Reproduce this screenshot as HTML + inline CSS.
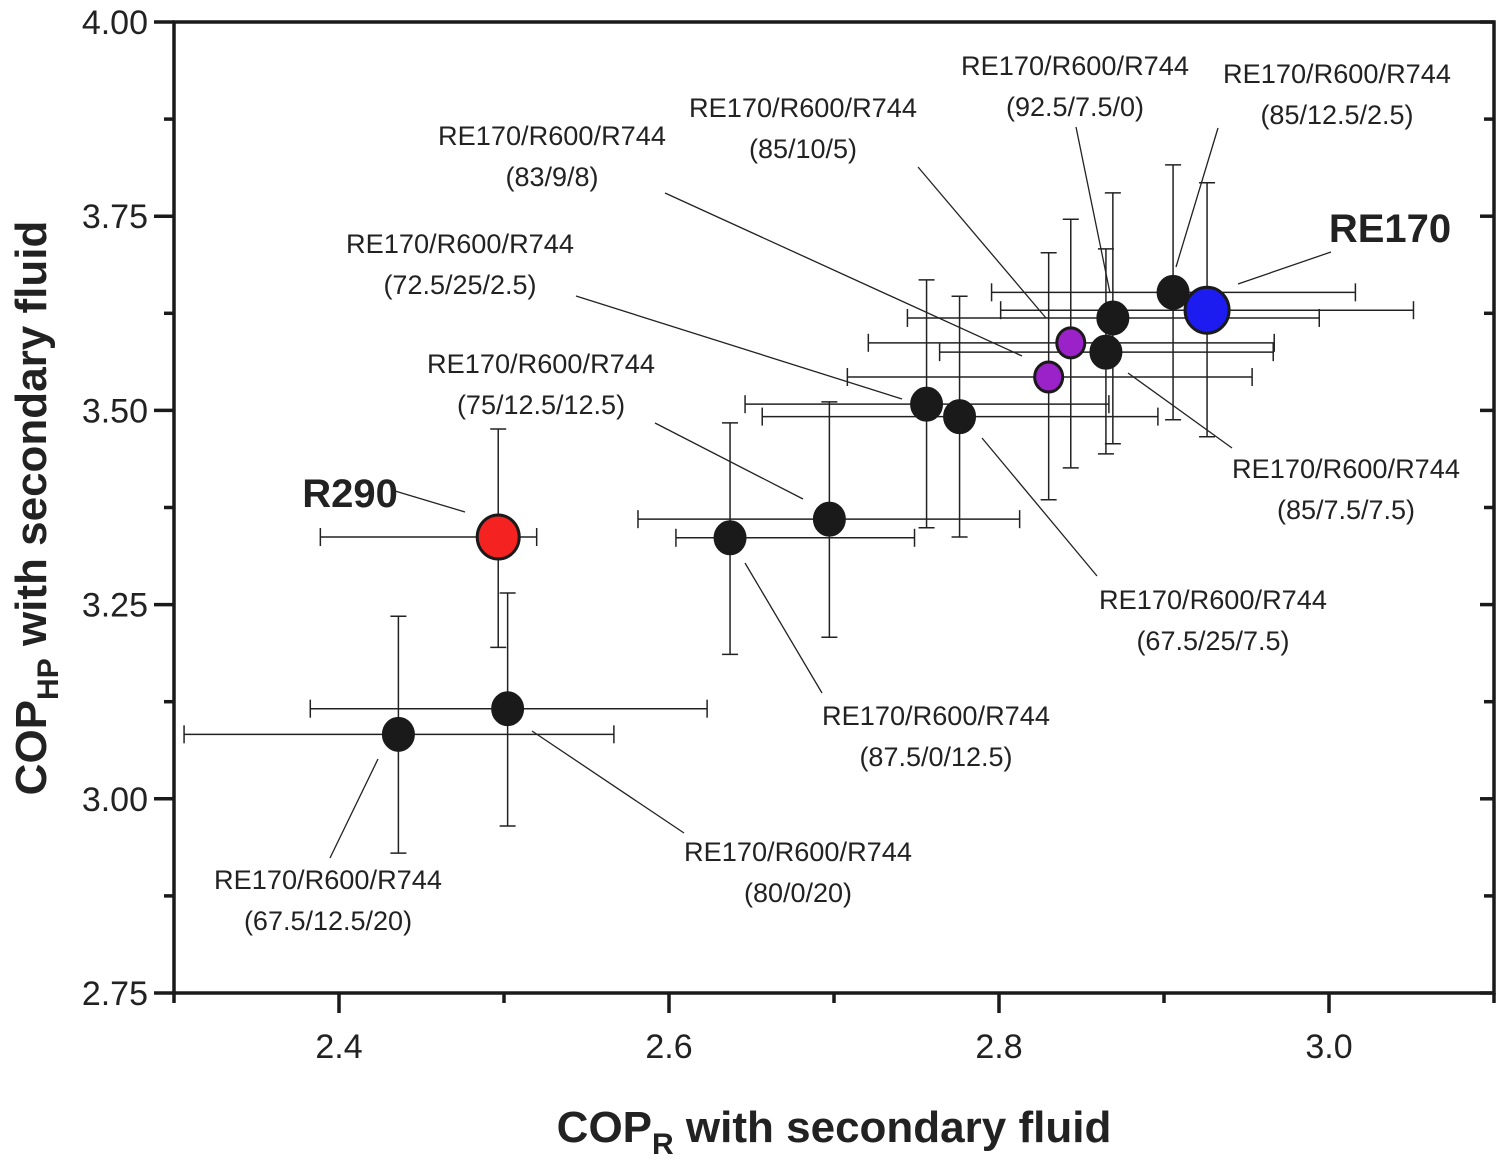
<!DOCTYPE html>
<html><head><meta charset="utf-8"><style>
html,body{margin:0;padding:0;background:#fff}
svg{display:block}
text{font-family:"Liberation Sans",Arial,sans-serif;fill:#222}
</style></head><body>
<svg id="chart" width="1500" height="1160" viewBox="0 0 1500 1160" xmlns="http://www.w3.org/2000/svg">
<g id="ann"></g>
<g id="bars"></g>
<g id="pts"></g>
<g id="axes"></g>
</svg>
<script>
const fluids = ["R290","87.5/0/12.5","75/12.5/12.5","72.5/25/2.5","67.5/25/7.5","83/9/8","85/10/5","85/7.5/7.5","92.5/7.5/0","85/12.5/2.5","RE170","67.5/12.5/20","80/0/20"];
const copR     = [2.4965,2.637,2.6972,2.7561,2.7761,2.8301,2.8435,2.8648,2.869,2.9055,2.9261,2.436,2.5022];
const copRLow  = [2.3887,2.6042,2.5812,2.6461,2.6565,2.7081,2.7208,2.764,2.7445,2.7955,2.801,2.3061,2.3826];
const copRHigh = [2.5198,2.7488,2.8125,2.8666,2.8963,2.9534,2.9668,2.9662,2.9941,3.016,3.0512,2.5666,2.6231];
const copHP     = [3.337,3.336,3.360,3.508,3.492,3.543,3.587,3.575,3.619,3.652,3.629,3.083,3.116];
const copHPLow  = [3.195,3.186,3.208,3.349,3.337,3.385,3.426,3.444,3.457,3.488,3.466,2.930,2.965];
const copHPHigh = [3.476,3.484,3.511,3.668,3.647,3.703,3.746,3.708,3.780,3.816,3.793,3.235,3.265];
const kinds = ["red","black","black","black","black","purple","purple","black","black","black","blue","black","black"];
const xTicks = [2.4,2.6,2.8,3.0];
const xTickLabels = ["2.4","2.6","2.8","3.0"];
const yTicks = [2.75,3.00,3.25,3.50,3.75,4.00];
const yTickLabels = ["2.75","3.00","3.25","3.50","3.75","4.00"];

const L=174,R=1494,T=22,B=993,X0=2.3,X1=3.1,Y0=2.75,Y1=4.0;
const sx=v=>L+(v-X0)/(X1-X0)*(R-L);
const sy=v=>B-(v-Y0)/(Y1-Y0)*(B-T);
const NS="http://www.w3.org/2000/svg";
function mk(tag,attrs,parent){const e=document.createElementNS(NS,tag);for(const k in attrs)e.setAttribute(k,attrs[k]);parent.appendChild(e);return e;}

const bars=document.getElementById('bars');
for(let i=0;i<fluids.length;i++){
  const g=mk('g',{},bars);
  
  
  const st={stroke:'#222','stroke-width':1.5};
  const x=sx(copR[i]),y=sy(copHP[i]),xl=sx(copRLow[i]),xh=sx(copRHigh[i]),yl=sy(copHPLow[i]),yh=sy(copHPHigh[i]);
  mk('line',Object.assign({x1:xl,x2:xh,y1:y,y2:y},st),g);
  mk('line',Object.assign({x1:xl,x2:xl,y1:y-9,y2:y+9},st),g);
  mk('line',Object.assign({x1:xh,x2:xh,y1:y-9,y2:y+9},st),g);
  mk('line',Object.assign({x1:x,x2:x,y1:yl,y2:yh},st),g);
  mk('line',Object.assign({x1:x-8,x2:x+8,y1:yl,y2:yl},st),g);
  mk('line',Object.assign({x1:x-8,x2:x+8,y1:yh,y2:yh},st),g);
}
const pts=document.getElementById('pts');
const fills={red:'#f52222',blue:'#1c1cf0',purple:'#9b22c8',black:'#1a1a1a'};
const rads={red:21,blue:22,purple:14,black:15};
for(let i=0;i<fluids.length;i++){
  const c=mk('ellipse',{cx:sx(copR[i]),cy:sy(copHP[i]),rx:rads[kinds[i]],ry:rads[kinds[i]]+1,fill:fills[kinds[i]],stroke:'#1a1a1a','stroke-width':3},pts);
  
  
}
// annotations (label placement in pixels)
const ann=document.getElementById('ann');
const labels=[
 [328,880,"(67.5/12.5/20)",378,759,330,858],
 [798,852,"(80/0/20)",532,731,684,833],
 [936,716,"(87.5/0/12.5)",745,563,822,693],
 [541,364,"(75/12.5/12.5)",655,423,803,499],
 [460,244,"(72.5/25/2.5)",576,296,902,399],
 [552,136,"(83/9/8)",665,193,1022,356],
 [803,108,"(85/10/5)",918,167,1046,318],
 [1075,66,"(92.5/7.5/0)",1076,127,1110,293],
 [1337,74,"(85/12.5/2.5)",1218,128,1176,267],
 [1346,469,"(85/7.5/7.5)",1128,373,1232,448],
 [1213,600,"(67.5/25/7.5)",982,438,1097,576]
];
labels.forEach((a,i)=>{
  const g=mk('g',{},ann);
  
  
  const t1=mk('text',{x:a[0],y:a[1]+9,'text-anchor':'middle','font-size':27,textLength:228,lengthAdjust:'spacingAndGlyphs'},g);t1.textContent="RE170/R600/R744";
  const t2=mk('text',{x:a[0],y:a[1]+50,'text-anchor':'middle','font-size':27},g);t2.textContent=a[2];
  mk('line',{x1:a[3],y1:a[4],x2:a[5],y2:a[6],stroke:'#222','stroke-width':1.3},g);
});
let g=mk('g',{},ann);
let t=mk('text',{x:1390,y:242,'text-anchor':'middle','font-size':40,'font-weight':'bold'},g);t.textContent="RE170";
mk('line',{x1:1238,y1:284,x2:1331,y2:252,stroke:'#222','stroke-width':1.3},g);
g=mk('g',{},ann);
t=mk('text',{x:350,y:507,'text-anchor':'middle','font-size':40,'font-weight':'bold'},g);t.textContent="R290";
mk('line',{x1:395,y1:491,x2:465,y2:512,stroke:'#222','stroke-width':1.3},g);

// axes
const ax=document.getElementById('axes');
mk('rect',{x:L,y:T,width:R-L,height:B-T,fill:'none',stroke:'#1a1a1a','stroke-width':3.5},ax);
for(let v=2.3;v<=3.1001;v+=0.1){
  const major=xTicks.some(tv=>Math.abs(tv-v)<1e-6);
  mk('line',{x1:sx(v),x2:sx(v),y1:B,y2:B+(major?20:10),stroke:'#1a1a1a','stroke-width':3.5},ax);
}
xTicks.forEach((v,i)=>{const tt=mk('text',{x:sx(v),y:1058,'text-anchor':'middle','font-size':34},ax);tt.textContent=xTickLabels[i];
 });
for(let v=2.75;v<=4.0001;v+=0.125){
  const major=yTicks.some(tv=>Math.abs(tv-v)<1e-6);
  mk('line',{x1:L,x2:L-(major?20:10),y1:sy(v),y2:sy(v),stroke:'#1a1a1a','stroke-width':3.5},ax);
  mk('line',{x1:R,x2:R-(major?14:10),y1:sy(v),y2:sy(v),stroke:'#1a1a1a','stroke-width':3.5},ax);
}
yTicks.forEach((v,i)=>{const tt=mk('text',{x:148,y:sy(v)+12,'text-anchor':'end','font-size':34},ax);tt.textContent=yTickLabels[i];
 });
const xt=mk('text',{x:834,y:1142,'text-anchor':'middle','font-size':44,'font-weight':'bold'},ax);

xt.innerHTML='COP<tspan font-size="30" dy="12">R</tspan><tspan dy="-12"> with secondary fluid</tspan>';
const yt=mk('text',{x:0,y:0,'text-anchor':'middle','font-size':44,'font-weight':'bold',transform:'translate(46,508) rotate(-90)'},ax);

yt.innerHTML='COP<tspan font-size="30" dy="12">HP</tspan><tspan dy="-12"> with secondary fluid</tspan>';
</script>
</body></html>
